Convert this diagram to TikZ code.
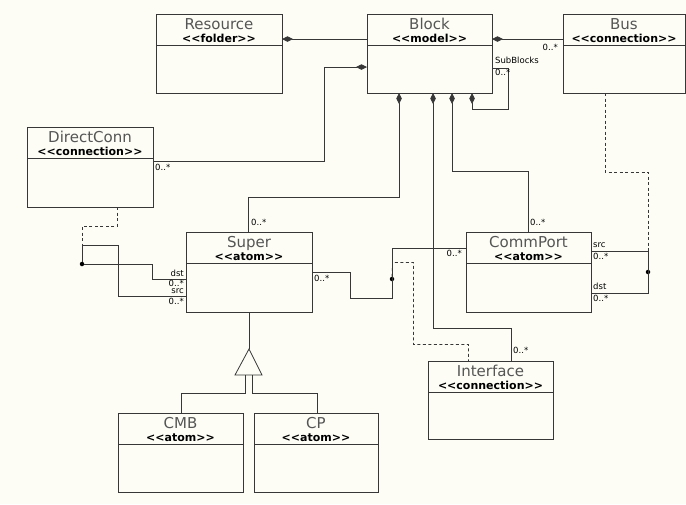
\documentclass[tikz,border=0pt]{standalone}
\usepackage{fontspec}
\usetikzlibrary{arrows.meta}
\newfontfamily\umlfont{DejaVu Sans}
\definecolor{paper}{RGB}{253,253,246}
\definecolor{ink}{RGB}{55,55,55}

\tikzset{
  boxline/.style={draw=ink, line width=0.8pt},
  classbox/.style={boxline, fill=paper, rectangle, inner sep=0pt, outer sep=0pt},
  titletext/.style={font={\umlfont\fontsize{15}{15}\selectfont}, text=ink!85, inner sep=0pt},
  stereotext/.style={font={\umlfont\bfseries\fontsize{11}{12}\selectfont}, text=black, inner sep=0pt},
  lbl/.style={font={\umlfont\fontsize{8.5}{9}\selectfont}, text=black, inner sep=0pt},
  wire/.style={draw=ink, line width=0.8pt},
  comp/.style={wire, {Diamond[length=11pt,width=5.5pt]}-},
  dashwire/.style={wire, dash pattern=on 3pt off 2.5pt},
  joint/.style={circle, fill=black, inner sep=0pt, minimum size=4.5pt},
}

% class box: name, left, top, right, bottom, title, stereotype
\newcommand\classbox[7]{%
  \pgfmathsetmacro\bw{#4-#2}\pgfmathsetmacro\bh{#5-#3}%
  \node[classbox, minimum width=\bw pt, minimum height=\bh pt] (#1) at ({(#2+#4)/2},{(#3+#5)/2}) {};
  \draw[boxline] ([yshift=-31pt]#1.north west) -- ([yshift=-31pt]#1.north east);
  \node[titletext, anchor=base] (#1-t) at ([yshift=-15.8pt]#1.north) {#6};
  \node[stereotext, anchor=base] (#1-s) at ([yshift=-28pt]#1.north) {#7};
}

\begin{document}
\begin{tikzpicture}[x=1pt, y=-1pt]
  \fill[paper] (0,0) rectangle (686,504);
  \useasboundingbox (0,0) rectangle (686,504);

  % classes
  \classbox{resource}{156}{14}{282}{93}{Resource}{<<folder>>}
  \classbox{block}{367}{14}{492}{93}{Block}{<<model>>}
  \classbox{bus}{563}{14}{685}{93}{Bus}{<<connection>>}
  \classbox{directconn}{27}{127}{153}{207}{DirectConn}{<<connection>>}
  \classbox{super}{186}{232}{312}{312}{Super}{<<atom>>}
  \classbox{commport}{466}{232}{591}{312}{CommPort}{<<atom>>}
  \classbox{interface}{428}{361}{553}{439}{Interface}{<<connection>>}
  \classbox{cmb}{118}{413}{243}{492}{CMB}{<<atom>>}
  \classbox{cp}{254}{413}{378}{492}{CP}{<<atom>>}

  % junction points of the connection classes
  \node[joint] (jdc) at (82,264) {};
  \node[joint] (jif) at (392,279) {};
  \node[joint] (jbus) at (648,272) {};

  % containment
  \draw[comp] (resource.east |- 0,39) -- (block.west |- 0,39);
  \draw[comp] (block.east |- 0,39) -- (bus.west |- 0,39);
  \node[lbl, anchor=east] (l-bus) at (558,47) {0..*};

  \draw[comp] (block.south -| 472,0) -- (472,109) -- (508,109) -- (508,68) -- (block.east |- 0,68);
  \node[lbl, anchor=west] (l-sub) at (495,60) {SubBlocks};
  \node[lbl, anchor=west] (l-subm) at (495,72.5) {0..*};

  \draw[comp] (block.west |- 0,67) -- (324,67) -- (324,161) -- (directconn.east |- 0,161);
  \node[lbl, anchor=west] (l-dc) at (155,167) {0..*};

  \draw[comp] (block.south -| 399,0) -- (399,197) -- (248,197) -- (super.north -| 248,0);
  \node[lbl, anchor=west] (l-sup) at (251,222) {0..*};

  \draw[comp] (block.south -| 433,0) -- (433,328) -- (511,328) -- (interface.north -| 511,0);
  \node[lbl, anchor=west] (l-if) at (513,350) {0..*};

  \draw[comp] (block.south -| 452,0) -- (452,171) -- (528,171) -- (commport.north -| 528,0);
  \node[lbl, anchor=west] (l-cp) at (530,222) {0..*};

  % DirectConn: Super to Super
  \draw[dashwire] (directconn.south -| 117,0) -- (117,226) -- (82,226) -- (jdc);
  \draw[wire] (jdc) -- (152,264) -- (152,279) -- (super.west |- 0,279);
  \draw[wire] (jdc) -- (82,245) -- (118,245) -- (118,296) -- (super.west |- 0,296);
  \node[lbl, anchor=east] (l-dst1) at (184,273) {dst};
  \node[lbl, anchor=east] (l-dstm1) at (184,283) {0..*};
  \node[lbl, anchor=east] (l-src1) at (184,291) {src};
  \node[lbl, anchor=east] (l-srcm1) at (184,301) {0..*};

  % Interface: Super to CommPort
  \draw[wire] (super.east |- 0,272) -- (350,272) -- (350,298) -- (392,298) -- (392,248) -- (commport.west |- 0,248);
  \draw[dashwire] (jif) -- (392.5,262.5) -- (413.5,262.5) -- (413.5,344.5) -- (468.5,344.5) -- (interface.north -| 468.5,0);
  \node[lbl, anchor=west] (l-supr) at (314,278) {0..*};
  \node[lbl, anchor=east] (l-cpl) at (462,253) {0..*};

  % Bus: CommPort to CommPort
  \draw[dashwire] (bus.south -| 605,0) -- (605,172) -- (648,172) -- (jbus);
  \draw[wire] (commport.east |- 0,251) -- (648,251) -- (648,293) -- (commport.east |- 0,293);
  \node[lbl, anchor=west] (l-src2) at (593,245) {src};
  \node[lbl, anchor=west] (l-srcm2) at (593,256) {0..*};
  \node[lbl, anchor=west] (l-dst2) at (593,286) {dst};
  \node[lbl, anchor=west] (l-dstm2) at (593,298) {0..*};

  % inheritance
  \coordinate (apex) at (249,349);
  \draw[wire] (super.south -| 249,0) -- (apex);
  \draw[boxline, fill=paper] (apex) -- (262,375) -- (235,375) -- cycle;
  \draw[wire] (245,375) -- (245,393) -- (181,393) -- (cmb.north -| 181,0);
  \draw[wire] (252,375) -- (252,393) -- (317,393) -- (cp.north -| 317,0);
\end{tikzpicture}
\end{document}
